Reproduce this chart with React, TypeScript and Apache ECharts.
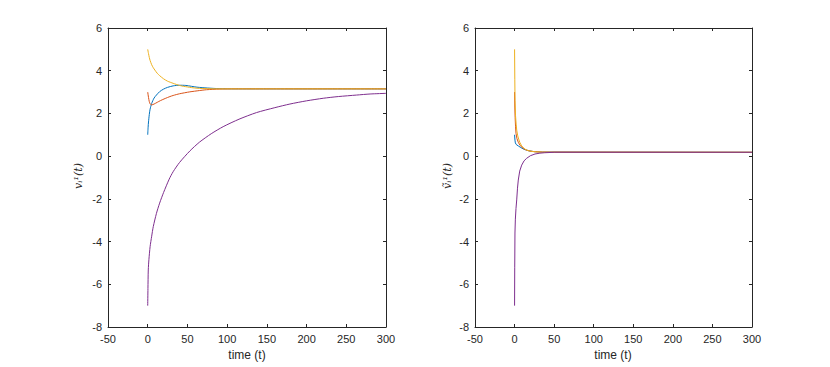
import React, { useEffect, useRef } from "react";
import * as echarts from "echarts";

// ---- Left panel: v_i^1(t) ----
const leftBlueT = [0, 0.5, 1, 2, 3, 5, 8, 11, 15, 20, 25, 32, 40, 48, 55, 62, 75, 90, 110, 150, 300];
const leftBlueV = [1.0, 1.35, 1.6, 1.95, 2.2, 2.47, 2.72, 2.86, 3.02, 3.14, 3.22, 3.29, 3.32, 3.31, 3.27, 3.23, 3.19, 3.16, 3.15, 3.15, 3.15];

const leftOrangeT = [0, 1, 2, 3, 4, 5, 8, 12, 16, 22, 28, 32, 40, 53, 65, 74, 90, 110, 150, 300];
const leftOrangeV = [3.0, 2.75, 2.55, 2.45, 2.41, 2.4, 2.44, 2.52, 2.6, 2.7, 2.79, 2.84, 2.92, 3.01, 3.07, 3.11, 3.14, 3.15, 3.15, 3.15];

const leftYellowT = [0, 1, 2, 3, 5, 7, 9, 12, 15, 20, 25, 32, 40, 45, 50, 55, 62, 75, 90, 120, 300];
const leftYellowV = [5.0, 4.8, 4.62, 4.48, 4.28, 4.14, 4.03, 3.88, 3.77, 3.62, 3.51, 3.41, 3.31, 3.27, 3.24, 3.21, 3.18, 3.16, 3.15, 3.15, 3.15];

const leftPurpleT = [0, 0.3, 0.7, 1.5, 3, 5, 7, 11, 15, 20, 27, 32, 40, 53, 65, 80, 95, 115, 137, 160, 179, 200, 221, 240, 263, 280, 300];
const leftPurpleV = [-7.0, -6.2, -5.33, -4.85, -4.24, -3.75, -3.3, -2.68, -2.2, -1.7, -1.08, -0.73, -0.3, 0.24, 0.65, 1.05, 1.38, 1.73, 2.04, 2.27, 2.44, 2.59, 2.71, 2.79, 2.86, 2.91, 2.94];

// ---- Right panel: ṽ_i^1(t) ----
const rightBlueT = [0, 0.5, 1, 2, 3, 5, 8, 12, 18, 25, 35, 300];
const rightBlueV = [1.0, 0.75, 0.62, 0.55, 0.52, 0.47, 0.4, 0.32, 0.25, 0.21, 0.19, 0.18];

const rightOrangeT = [0, 0.3, 0.7, 1.2, 1.8, 3, 4.7, 7, 11, 15, 19.5, 25, 35, 300];
const rightOrangeV = [3.0, 2.3, 1.8, 1.4, 1.07, 0.82, 0.65, 0.5, 0.36, 0.28, 0.24, 0.21, 0.19, 0.18];

const rightYellowT = [0, 0.3, 0.6, 1.2, 2, 2.7, 4, 5.5, 6.8, 9, 13, 17, 22, 28, 35, 45, 300];
const rightYellowV = [5.0, 3.6, 2.6, 1.9, 1.5, 1.22, 0.95, 0.76, 0.63, 0.48, 0.33, 0.26, 0.22, 0.2, 0.19, 0.18, 0.18];

const rightPurpleT = [0, 0.2, 0.5, 1, 1.8, 2.7, 3.7, 4.7, 6.5, 9, 12, 15.3, 20, 25.8, 32, 38, 50, 300];
const rightPurpleV = [-7.0, -5.2, -3.6, -2.95, -2.45, -2.05, -1.5, -1.12, -0.7, -0.42, -0.22, -0.1, 0.02, 0.1, 0.14, 0.16, 0.18, 0.18];

const colors = ["#0072BD", "#D95319", "#EDB120", "#7E2F8E"];
const xMin = -50, xMax = 300, xStep = 50;
const yMin = -8, yMax = 6, yStep = 2;

const zip = (t: number[], v: number[]) => t.map((x, i) => [x, v[i]]);

const axisColor = "#262626";
const font = "'Liberation Sans', Arial, sans-serif";

export default function App() {
  const ref = useRef<HTMLDivElement>(null);
  useEffect(() => {
    if (!ref.current) return;
    const chart = echarts.init(ref.current, undefined, { renderer: "svg" });

    const grids = [
      { left: 100, top: 20, width: 278, height: 299 },
      { left: 467, top: 20, width: 277, height: 299 },
    ];

    const xAxes: any[] = [];
    const yAxes: any[] = [];
    [0, 1].forEach((g) => {
      xAxes.push({
        type: "value", gridIndex: g, min: xMin, max: xMax, interval: xStep, position: "bottom",
        axisLine: { show: true, onZero: false, lineStyle: { color: axisColor, width: 1 } },
        axisTick: { show: true, inside: true, length: 3, lineStyle: { color: axisColor } },
        axisLabel: { show: true, color: axisColor, fontSize: 11, fontFamily: font, margin: 6 },
        splitLine: { show: false },
      });
      xAxes.push({
        type: "value", gridIndex: g, min: xMin, max: xMax, interval: xStep, position: "top",
        axisLine: { show: true, onZero: false, lineStyle: { color: axisColor, width: 1 } },
        axisTick: { show: true, inside: true, length: 3, lineStyle: { color: axisColor } },
        axisLabel: { show: false },
        splitLine: { show: false },
      });
      yAxes.push({
        type: "value", gridIndex: g, min: yMin, max: yMax, interval: yStep, position: "left",
        axisLine: { show: true, onZero: false, lineStyle: { color: axisColor, width: 1 } },
        axisTick: { show: true, inside: true, length: 3, lineStyle: { color: axisColor } },
        axisLabel: { show: true, color: axisColor, fontSize: 11, fontFamily: font, margin: 6 },
        splitLine: { show: false },
      });
      yAxes.push({
        type: "value", gridIndex: g, min: yMin, max: yMax, interval: yStep, position: "right",
        axisLine: { show: true, onZero: false, lineStyle: { color: axisColor, width: 1 } },
        axisTick: { show: true, inside: true, length: 3, lineStyle: { color: axisColor } },
        axisLabel: { show: false },
        splitLine: { show: false },
      });
    });

    const leftData = [
      zip(leftBlueT, leftBlueV),
      zip(leftOrangeT, leftOrangeV),
      zip(leftYellowT, leftYellowV),
      zip(leftPurpleT, leftPurpleV),
    ];
    const rightData = [
      zip(rightBlueT, rightBlueV),
      zip(rightOrangeT, rightOrangeV),
      zip(rightYellowT, rightYellowV),
      zip(rightPurpleT, rightPurpleV),
    ];

    const series: any[] = [];
    leftData.forEach((d, i) =>
      series.push({
        type: "line", xAxisIndex: 0, yAxisIndex: 0, data: d, showSymbol: false,
        smooth: 0.25,
        lineStyle: { color: colors[i], width: 1 }, itemStyle: { color: colors[i] },
      })
    );
    rightData.forEach((d, i) =>
      series.push({
        type: "line", xAxisIndex: 2, yAxisIndex: 2, data: d, showSymbol: false,
        smooth: false,
        lineStyle: { color: colors[i], width: 1 }, itemStyle: { color: colors[i] },
      })
    );

    chart.setOption({
      animation: false,
      backgroundColor: "#ffffff",
      grid: grids,
      xAxis: xAxes,
      yAxis: yAxes,
      series,
      graphic: [
        {
          type: "text", x: 239, y: 347,
          style: { text: "time (t)", fontSize: 12, fill: axisColor, fontFamily: font, align: "center", verticalAlign: "middle" },
        },
        {
          type: "text", x: 605, y: 347,
          style: { text: "time (t)", fontSize: 12, fill: axisColor, fontFamily: font, align: "center", verticalAlign: "middle" },
        },
        {
          type: "text", x: 70, y: 168, rotation: Math.PI / 2,
          style: {
            text: "vᵢ¹(t)", fontSize: 11, fill: axisColor,
            fontFamily: "'DejaVu Serif', serif", fontStyle: "italic",
            align: "center", verticalAlign: "middle",
          },
        },
        {
          type: "text", x: 439, y: 168, rotation: Math.PI / 2,
          style: {
            text: "ṽᵢ¹(t)", fontSize: 11, fill: axisColor,
            fontFamily: "'DejaVu Serif', serif", fontStyle: "italic",
            align: "center", verticalAlign: "middle",
          },
        },
      ],
    });
    return () => chart.dispose();
  }, []);
  return <div ref={ref} style={{ width: 822, height: 359 }} />;
}
